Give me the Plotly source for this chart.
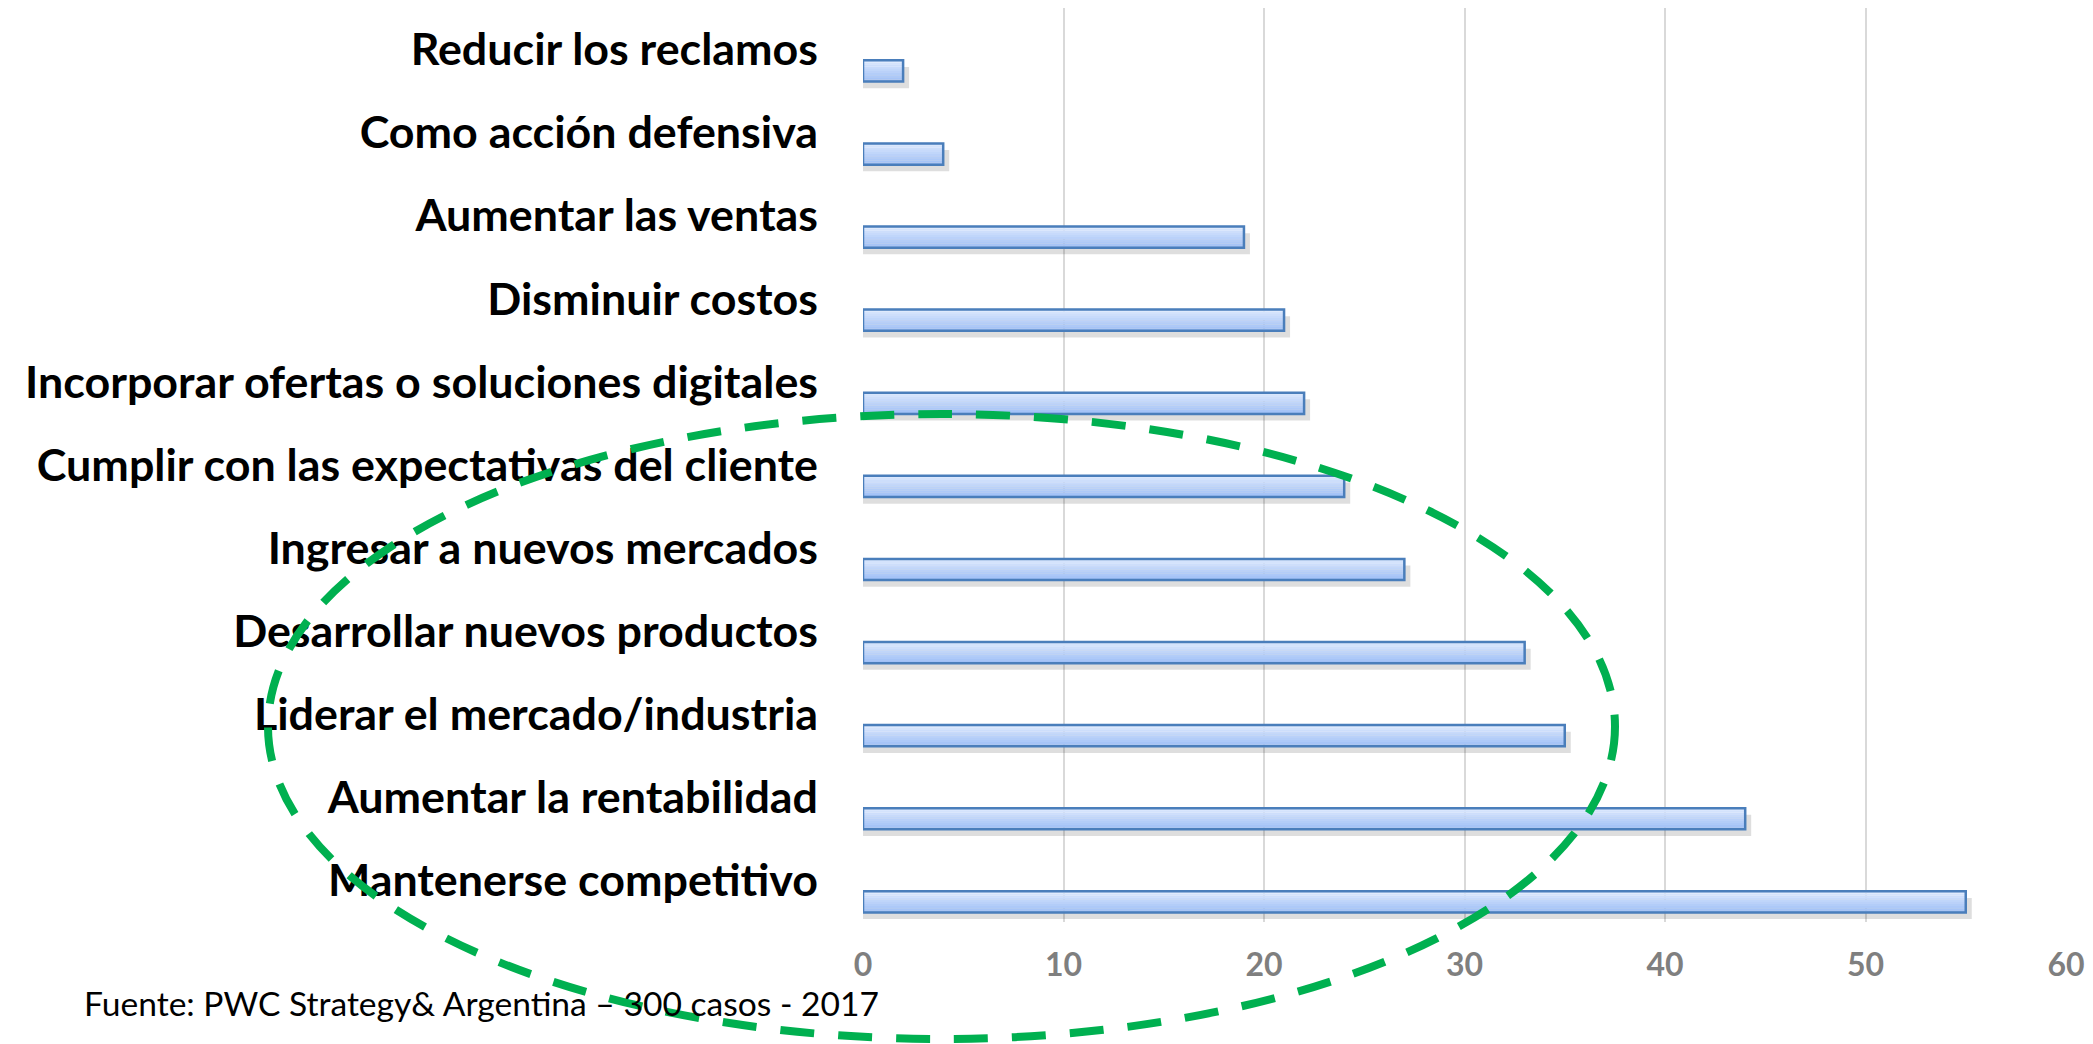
import plotly.graph_objects as go

# ---- data (top to bottom as shown) ----
categories = [
    "Reducir los reclamos",
    "Como acción defensiva",
    "Aumentar las ventas",
    "Disminuir costos",
    "Incorporar ofertas o soluciones digitales",
    "Cumplir con las expectativas del cliente",
    "Ingresar a nuevos mercados",
    "Desarrollar nuevos productos",
    "Liderar el mercado/industria",
    "Aumentar la rentabilidad",
    "Mantenerse competitivo",
]
values = [2, 4, 19, 21, 22, 24, 27, 33, 35, 44, 55]
x_ticks = [0, 10, 20, 30, 40, 50, 60]
source_note = "Fuente: PWC Strategy& Argentina – 300 casos - 2017"

# ---- geometry ----
W, H = 2093, 1044
L, R, T, B = 863, 27, 8, 122
plot_w = W - L - R
plot_h = H - T - B

BAR_OFF = 0.13
BAR_W = 0.255

fig = go.Figure()

# soft shadow
fig.add_trace(go.Bar(
    y=categories, x=[v + 0.3 for v in values], orientation="h",
    offset=BAR_OFF + 0.08, width=BAR_W,
    marker=dict(color="rgba(0,0,0,0.13)", line=dict(width=0)),
    hoverinfo="skip", showlegend=False,
))

# gradient fill via thin strips
top_c = (218, 231, 253)
bot_c = (160, 192, 246)
N = 10
sw = BAR_W / N
for k in range(N):
    t = k / (N - 1)
    c = tuple(round(top_c[i] + (bot_c[i] - top_c[i]) * t) for i in range(3))
    fig.add_trace(go.Bar(
        y=categories, x=values, orientation="h",
        offset=BAR_OFF + k * sw, width=sw * 1.05,
        marker=dict(color=f"rgb{c}", line=dict(width=0)),
        hoverinfo="skip", showlegend=False,
    ))

# border
fig.add_trace(go.Bar(
    y=categories, x=values, orientation="h",
    offset=BAR_OFF, width=BAR_W,
    marker=dict(color="rgba(0,0,0,0)", line=dict(color="#4a7ebb", width=2.5)),
    showlegend=False,
))

# ellipse (pixel positions -> paper coords)
def px2x(px):
    return (px - L) / plot_w

def py2y(py):
    return (H - B - py) / plot_h

fig.add_shape(
    type="circle", xref="paper", yref="paper",
    x0=px2x(268), x1=px2x(1615), y0=py2y(1039), y1=py2y(414),
    line=dict(color="#00b050", width=8, dash="34px,24px"),
    layer="above",
)

fig.add_annotation(
    text=source_note, xref="paper", yref="paper",
    x=px2x(82), y=py2y(1003), xanchor="left", yanchor="middle",
    showarrow=False, font=dict(family="Lato", size=33.6, color="#000000"),
)

fig.update_layout(
    width=W, height=H,
    margin=dict(l=L, r=R, t=T, b=B, autoexpand=False),
    paper_bgcolor="white", plot_bgcolor="white",
    barmode="overlay",
    xaxis=dict(
        range=[0, 60], tickvals=x_ticks, ticktext=[str(v) for v in x_ticks],
        showgrid=True, gridcolor="#d9d9d9", gridwidth=2,
        zeroline=False, showline=False,
        tickfont=dict(family="Lato", size=32, color="#7f7f7f", weight="bold"),
        ticklabelstandoff=21,
    ),
    yaxis=dict(
        type="category", categoryorder="array", categoryarray=categories,
        range=[len(categories) - 0.5, -0.5],
        showgrid=False, zeroline=False, showline=False,
        tickfont=dict(family="Lato", size=44.8, color="#000000", weight="bold"),
        ticklabelstandoff=44,
    ),
)

fig.write_html("out.html", config={"displayModeBar": False},
               post_script="document.body.style.margin='0';")
